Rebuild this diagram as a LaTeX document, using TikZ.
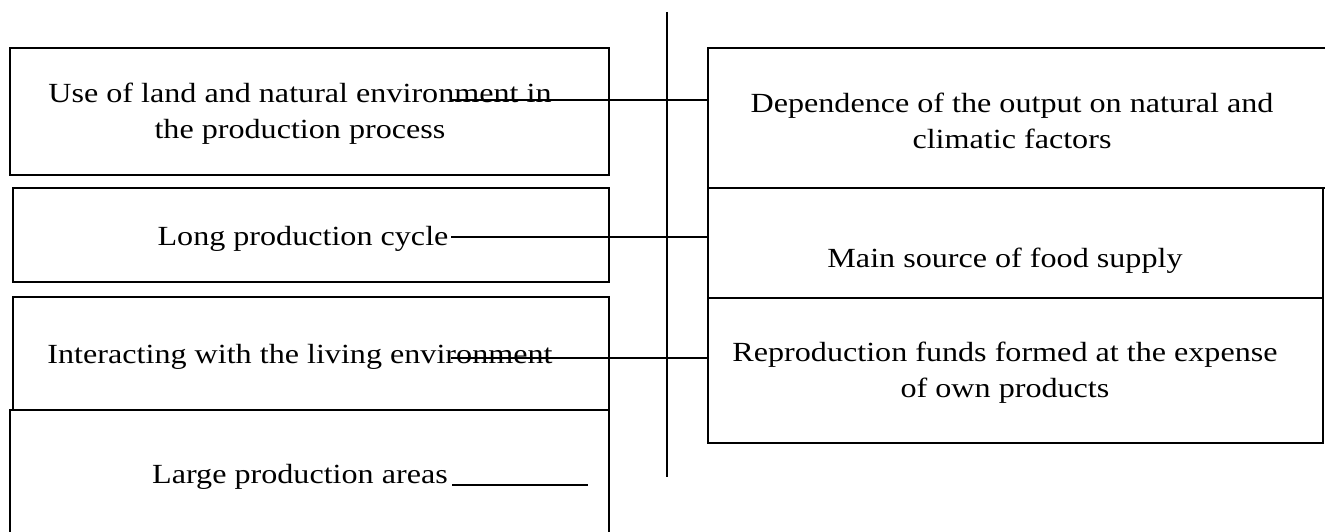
\documentclass[tikz,border=0pt]{standalone}
\usepackage{fontspec}
\setmainfont[FakeStretch=1.16]{Liberation Serif}
\begin{document}
\begin{tikzpicture}[x=1pt, y=-1pt,
    feature/.style ={draw, line width=2pt, anchor=north west, inner sep=0pt},
    caption/.style ={inner sep=0pt, align=center, font=\fontsize{27.7}{36}\selectfont},
    link/.style ={line width=1.1pt}]
   \useasboundingbox (0,0) rectangle (1325,532);

   % left column
   \node[feature, minimum width=599pt, minimum height=127pt] (L1) at (9,47)  {};
   \node[feature, minimum width=596pt, minimum height=94pt]  (L2) at (12,187) {};
   \node[feature, minimum width=596pt, minimum height=113pt] (L3) at (12,296) {};
   \node[feature, minimum width=599pt, minimum height=140pt] (L4) at (9,409)  {};

   % right column
   \node[feature, minimum width=635pt, minimum height=140pt] (R1) at (707,47)  {};
   \node[feature, minimum width=615pt, minimum height=110pt] (R2) at (707,187) {};
   \node[feature, minimum width=615pt, minimum height=145pt] (R3) at (707,297) {};

   \node[caption] (useland) at (300,114) {Use of land and natural environment in\\the production process};
   \node[caption, anchor=base] (cycle) at (303,245) {Long production cycle};
   \node[caption, anchor=base] (living) at (300,363) {Interacting with the living environment};
   \node[caption, anchor=base] (areas) at (300,483) {Large production areas};
   \node[caption] (climate) at (1012,121) {Dependence of the output on natural and\\climatic factors};
   \node[caption, anchor=base] (food) at (1005,267) {Main source of food supply};
   \node[caption] (funds) at (1005,373) {Reproduction funds formed at the expense\\of own products};

   % axis and links
   \coordinate (axtop) at (667,12);
   \coordinate (axbot) at (667,477);
   \draw[link] (axtop) -- (axbot);

   \coordinate (c1) at (451,100);
   \coordinate (c2) at (451,237);
   \coordinate (c3) at (451,358);
   \draw[link] (c1) -- (c1 -| R1.west);
   \draw[link] (c2) -- (c2 -| R2.west);
   \draw[link] (c3) -- (c3 -| R3.west);

   \coordinate (u1) at (452,485);
   \coordinate (u2) at (588,485);
   \draw[link] (u1) -- (u2);

 \end{tikzpicture}
\end{document}
